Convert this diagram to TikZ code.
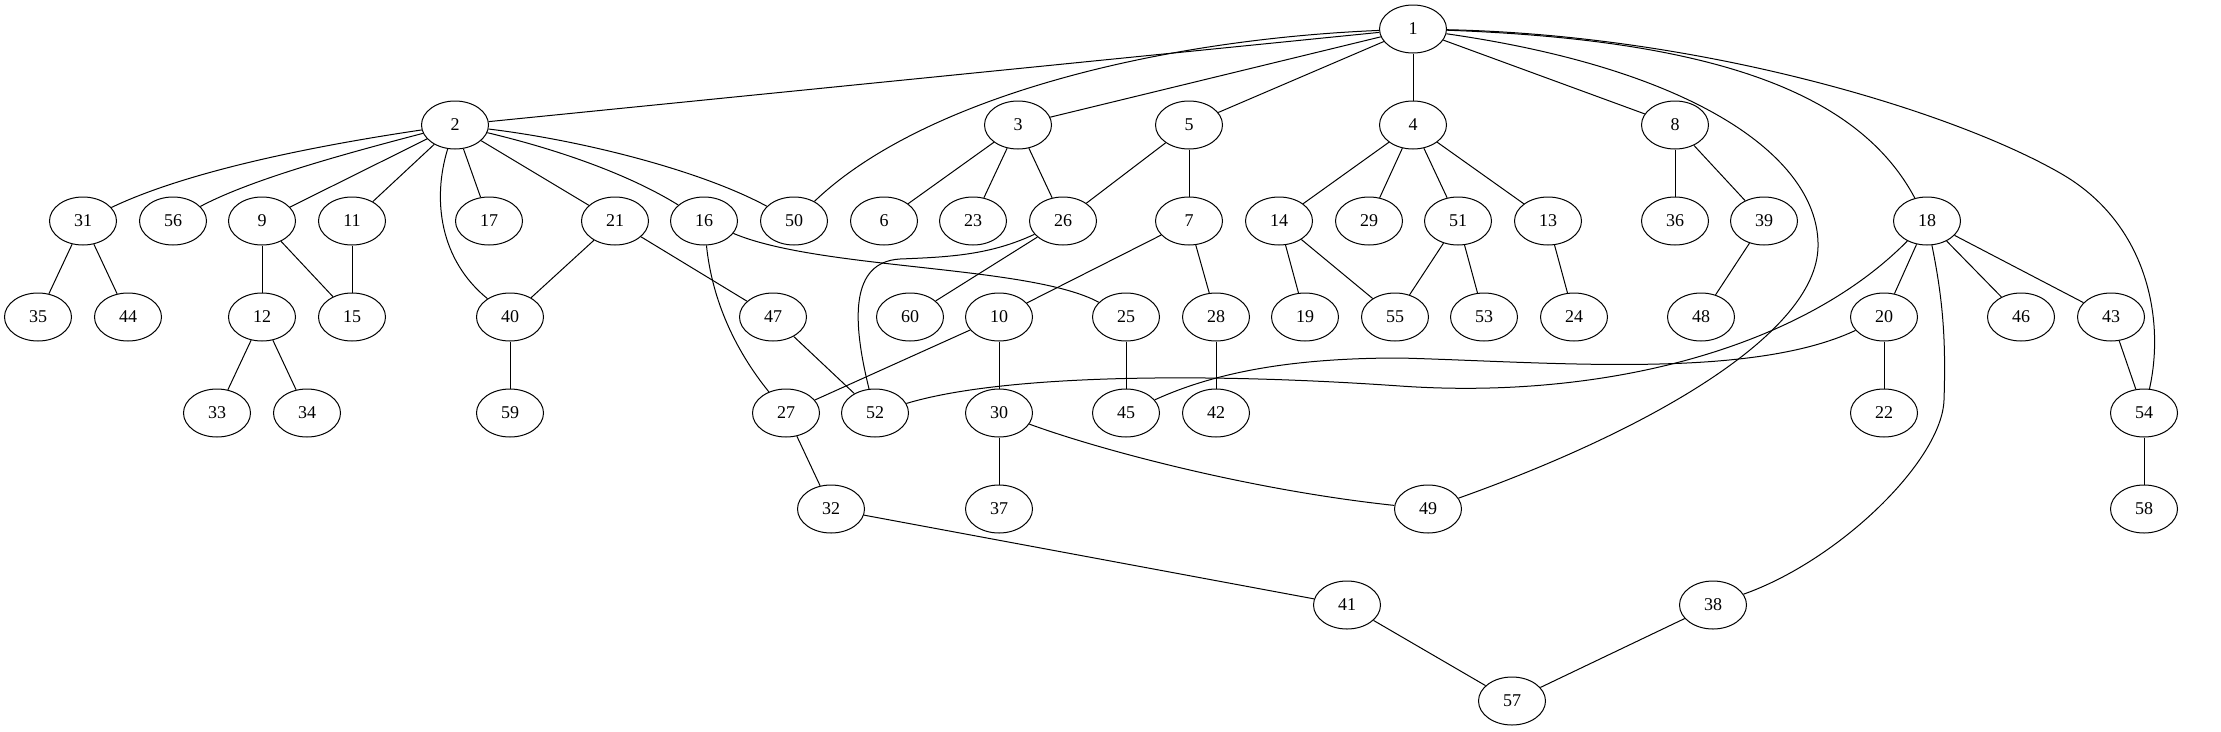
\documentclass[tikz,border=0pt]{standalone}
\usepackage{fontspec}
\setmainfont{Liberation Serif}
\usetikzlibrary{shapes.geometric}
\tikzset{
  vtx/.style={ellipse, draw, line width=1pt, minimum width=67pt, minimum height=48pt, inner sep=0pt, font=\fontsize{18}{20}\selectfont},
  edge/.style={line width=1pt}
}
\begin{document}
\begin{tikzpicture}[x=1pt,y=-1pt]
\useasboundingbox (0,0) rectangle (2221,731);
% rank 0
\node[vtx] (n1) at (1413,29) {1};
% rank 1
\node[vtx] (n2) at (455,125) {2};
\node[vtx] (n3) at (1018,125) {3};
\node[vtx] (n5) at (1189,125) {5};
\node[vtx] (n4) at (1413,125) {4};
\node[vtx] (n8) at (1675,125) {8};
% rank 2
\node[vtx] (n31) at (83,221) {31};
\node[vtx] (n56) at (173,221) {56};
\node[vtx] (n9) at (262,221) {9};
\node[vtx] (n11) at (352,221) {11};
\node[vtx] (n17) at (489,221) {17};
\node[vtx] (n21) at (615,221) {21};
\node[vtx] (n16) at (704,221) {16};
\node[vtx] (n50) at (794,221) {50};
\node[vtx] (n6) at (884,221) {6};
\node[vtx] (n23) at (973,221) {23};
\node[vtx] (n26) at (1063,221) {26};
\node[vtx] (n7) at (1189,221) {7};
\node[vtx] (n14) at (1279,221) {14};
\node[vtx] (n29) at (1369,221) {29};
\node[vtx] (n51) at (1458,221) {51};
\node[vtx] (n13) at (1548,221) {13};
\node[vtx] (n36) at (1675,221) {36};
\node[vtx] (n39) at (1764,221) {39};
\node[vtx] (n18) at (1927,221) {18};
% rank 3
\node[vtx] (n35) at (38,317) {35};
\node[vtx] (n44) at (128,317) {44};
\node[vtx] (n12) at (262,317) {12};
\node[vtx] (n15) at (352,317) {15};
\node[vtx] (n40) at (510,317) {40};
\node[vtx] (n47) at (773,317) {47};
\node[vtx] (n60) at (910,317) {60};
\node[vtx] (n10) at (999,317) {10};
\node[vtx] (n25) at (1126,317) {25};
\node[vtx] (n28) at (1216,317) {28};
\node[vtx] (n19) at (1305,317) {19};
\node[vtx] (n55) at (1395,317) {55};
\node[vtx] (n53) at (1484,317) {53};
\node[vtx] (n24) at (1574,317) {24};
\node[vtx] (n48) at (1701,317) {48};
\node[vtx] (n20) at (1884,317) {20};
\node[vtx] (n46) at (2021,317) {46};
\node[vtx] (n43) at (2111,317) {43};
% rank 4
\node[vtx] (n33) at (217,413) {33};
\node[vtx] (n34) at (307,413) {34};
\node[vtx] (n59) at (510,413) {59};
\node[vtx] (n27) at (786,413) {27};
\node[vtx] (n52) at (875,413) {52};
\node[vtx] (n30) at (999,413) {30};
\node[vtx] (n45) at (1126,413) {45};
\node[vtx] (n42) at (1216,413) {42};
\node[vtx] (n22) at (1884,413) {22};
\node[vtx] (n54) at (2144,413) {54};
% rank 5
\node[vtx] (n32) at (831,509) {32};
\node[vtx] (n37) at (999,509) {37};
\node[vtx] (n49) at (1428,509) {49};
\node[vtx] (n58) at (2144,509) {58};
% rank 6
\node[vtx] (n41) at (1347,605) {41};
\node[vtx] (n38) at (1713,605) {38};
% rank 7
\node[vtx] (n57) at (1512,701) {57};

% edges from 1
\draw[edge] (n1) -- (n2);
\draw[edge] (n1) .. controls (1150,40) and (920,100) .. (n50);
\draw[edge] (n1) -- (n3);
\draw[edge] (n1) -- (n5);
\draw[edge] (n1) -- (n4);
\draw[edge] (n1) -- (n8);
\draw[edge] (n1) .. controls (1720,40) and (1860,95) .. (n18);
\draw[edge] (n1) .. controls (1700,70) and (1820,160) .. (1818,247) .. controls (1816,334) and (1650,430) .. (n49);
\draw[edge] (n1) .. controls (1700,35) and (1950,110) .. (2060,173) .. controls (2148,223) and (2165,320) .. (n54);
% edges from 2
\draw[edge] (n2) .. controls (320,145) and (190,170) .. (n31);
\draw[edge] (n2) .. controls (340,155) and (250,180) .. (n56);
\draw[edge] (n2) -- (n9);
\draw[edge] (n2) -- (n11);
\draw[edge] (n2) .. controls (432,200) and (440,260) .. (n40);
\draw[edge] (n2) -- (n17);
\draw[edge] (n2) -- (n21);
\draw[edge] (n2) .. controls (560,150) and (630,175) .. (n16);
\draw[edge] (n2) .. controls (580,140) and (700,170) .. (n50);
% rank 1 others
\draw[edge] (n3) -- (n6);
\draw[edge] (n3) -- (n23);
\draw[edge] (n3) -- (n26);
\draw[edge] (n5) -- (n26);
\draw[edge] (n5) -- (n7);
\draw[edge] (n4) -- (n14);
\draw[edge] (n4) -- (n29);
\draw[edge] (n4) -- (n51);
\draw[edge] (n4) -- (n13);
\draw[edge] (n8) -- (n36);
\draw[edge] (n8) -- (n39);
% rank 2 to lower
\draw[edge] (n31) -- (n35);
\draw[edge] (n31) -- (n44);
\draw[edge] (n9) -- (n12);
\draw[edge] (n9) -- (n15);
\draw[edge] (n11) -- (n15);
\draw[edge] (n21) -- (n40);
\draw[edge] (n21) -- (n47);
\draw[edge] (n16) .. controls (820,270) and (1030,265) .. (n25);
\draw[edge] (n16) .. controls (712,300) and (735,350) .. (n27);
\draw[edge] (n26) -- (n60);
\draw[edge] (n26) .. controls (990,255) and (950,257) .. (900,259) .. controls (850,262) and (852,320) .. (n52);
\draw[edge] (n7) -- (n10);
\draw[edge] (n7) -- (n28);
\draw[edge] (n14) -- (n19);
\draw[edge] (n14) -- (n55);
\draw[edge] (n51) -- (n55);
\draw[edge] (n51) -- (n53);
\draw[edge] (n13) -- (n24);
\draw[edge] (n39) -- (n48);
\draw[edge] (n18) -- (n20);
\draw[edge] (n18) -- (n46);
\draw[edge] (n18) -- (n43);
\draw[edge] (n18) .. controls (1943,300) and (1946,340) .. (1944,400) .. controls (1942,460) and (1840,560) .. (n38);
\draw[edge] (n18) .. controls (1800,350) and (1600,400) .. (1400,386) .. controls (1200,372) and (1000,375) .. (n52);
% rank 3 to lower
\draw[edge] (n12) -- (n33);
\draw[edge] (n12) -- (n34);
\draw[edge] (n40) -- (n59);
\draw[edge] (n47) -- (n52);
\draw[edge] (n10) -- (n27);
\draw[edge] (n10) -- (n30);
\draw[edge] (n25) -- (n45);
\draw[edge] (n28) -- (n42);
\draw[edge] (n20) -- (n22);
\draw[edge] (n20) .. controls (1750,380) and (1550,362) .. (1400,358) .. controls (1300,358) and (1220,370) .. (n45);
\draw[edge] (n43) -- (n54);
% rank 4 to lower
\draw[edge] (n27) -- (n32);
\draw[edge] (n30) -- (n37);
\draw[edge] (n30) .. controls (1100,450) and (1250,490) .. (n49);
\draw[edge] (n54) -- (n58);
\draw[edge] (n32) -- (n41);
\draw[edge] (n41) -- (n57);
\draw[edge] (n38) -- (n57);
\end{tikzpicture}
\end{document}
